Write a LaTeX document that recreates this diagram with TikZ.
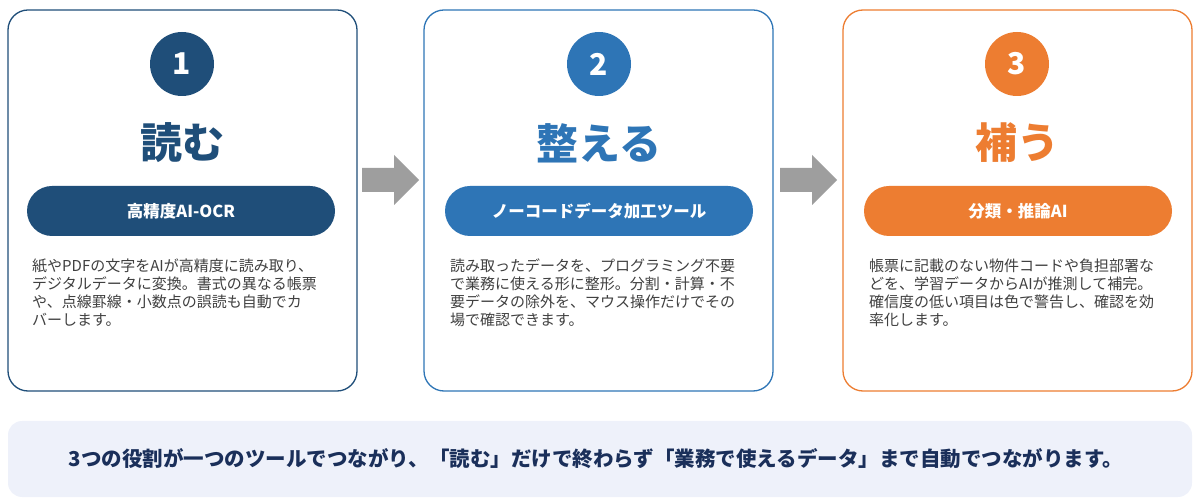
\documentclass[tikz,border=0pt]{standalone}
\usepackage{fontspec}
\setmainfont{Noto Sans CJK JP}
\usetikzlibrary{arrows.meta}
\definecolor{cnavy}{HTML}{1F4E79}
\definecolor{cblue}{HTML}{2E75B6}
\definecolor{corange}{HTML}{ED7D31}
\definecolor{ctext}{HTML}{404040}
\definecolor{cband}{HTML}{EEF1FA}
\definecolor{cdark}{HTML}{1A2F5A}
\tikzset{
 card/.style={draw=#1, line width=1.3pt, rounded corners=20pt, fill=white},
 num/.style={circle, fill=#1, minimum size=64pt, inner sep=0pt, text=white, font=\fontsize{30}{30}\selectfont\bfseries},
 title/.style={text=#1, font=\fontsize{42}{42}\selectfont\bfseries},
 pill/.style={fill=#1, rounded corners=25pt, minimum width=308pt, minimum height=50pt, text=white, font=\fontsize{16.5}{16.5}\selectfont\bfseries},
 body/.style={anchor=north west, align=left, text=ctext, font=\fontsize{15}{18}\selectfont, inner sep=0pt},
 garrow/.style={fill=black!38, draw=none}
}
\begin{document}
\begin{tikzpicture}[x=1pt,y=-1pt]
\useasboundingbox (0,0) rectangle (1200,502);
\foreach \x/\c/\n in {8/cnavy/1, 424/cblue/2, 843/corange/3}{
  \draw[card=\c] (\x,10) rectangle ++(349,381);
}
\node[num=cnavy] (n1) at (182,64) {1};
\node[num=cblue] (n2) at (599,64) {2};
\node[num=corange] (n3) at (1017,64) {3};
\node[title=cnavy] (t1) at (182,143) {読む};
\node[title=cblue] (t2) at (599,143) {整える};
\node[title=corange] (t3) at (1017,143) {補う};
\node[pill=cnavy] (p1) at (181,211) {高精度AI-OCR};
\node[pill=cblue] (p2) at (599,211) {ノーコードデータ加工ツール};
\node[pill=corange] (p3) at (1018,211) {分類・推論AI};
\node[body] (b1) at (32,259) {紙やPDFの文字をAIが高精度に読み取り、\\デジタルデータに変換。書式の異なる帳票\\や、点線罫線・小数点の誤読も自動でカ\\バーします。};
\node[body] (b2) at (450,259) {読み取ったデータを、プログラミング不要\\で業務に使える形に整形。分割・計算・不\\要データの除外を、マウス操作だけでその\\場で確認できます。};
\node[body] (b3) at (869,259) {帳票に記載のない物件コードや負担部署な\\どを、学習データからAIが推測して補完。\\確信度の低い項目は色で警告し、確認を効\\率化します。};
\foreach \x in {362,780}{
  \fill[garrow] (\x,168) -- (\x+32,168) -- (\x+32,155) -- (\x+57,180) -- (\x+32,205) -- (\x+32,192) -- (\x,192) -- cycle;
}
\node[fill=cband, rounded corners=14pt, minimum width=1184pt, minimum height=76pt] (band) at (600,459) {};
\node[text=cdark, font=\fontsize{20.5}{21}\selectfont\bfseries] (bt) at (596,459) {3つの役割が一つのツールでつながり、「読む」だけで終わらず「業務で使えるデータ」まで自動でつながります。};
\end{tikzpicture}
\end{document}
